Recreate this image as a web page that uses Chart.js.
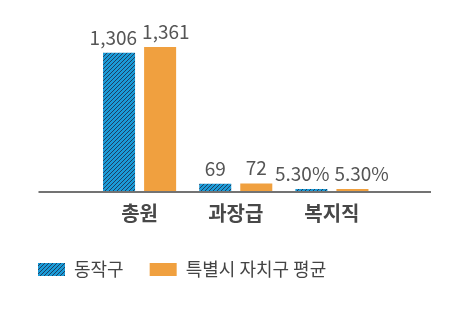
<!DOCTYPE html>
<html>
<head>
<meta charset="utf-8">
<script src="https://cdn.jsdelivr.net/npm/chart.js@4"></script>
<style>
  html, body { margin: 0; padding: 0; background: #fff; }
  #wrap { width: 470px; height: 313px; }
</style>
</head>
<body>
<div id="wrap"><canvas id="chart"></canvas></div>
<script>
const categories = ['총원', '과장급', '복지직'];
const seriesNames = ['동작구', '특별시 자치구 평균'];
const dongjakValues = [1306, 69, 5.3];
const averageValues = [1361, 72, 5.3];
const dongjakLabels = ['1,306', '69', '5.30%'];
const averageLabels = ['1,361', '72', '5.30%'];

const FONT = '"Noto Sans CJK KR", "Noto Sans", sans-serif';

// hatched blue fill for 동작구
function makeHatch() {
    const c = document.createElement('canvas');
    c.width = 4; c.height = 4;
    const g = c.getContext('2d');
    g.fillStyle = '#1b9bd7';
    g.fillRect(0, 0, 4, 4);
    g.strokeStyle = '#1d3f63';
    g.lineWidth = 1;
    g.beginPath();
    g.moveTo(0, 4); g.lineTo(4, 0);
    g.moveTo(-1, 1); g.lineTo(1, -1);
    g.moveTo(3, 5); g.lineTo(5, 3);
    g.stroke();
    return g.createPattern(c, 'repeat');
}

// value labels above bars, pushed apart when the pair would touch
const valueLabels = {
    id: 'valueLabels',
    afterDatasetsDraw(chart) {
        const ctx = chart.ctx;
        const texts = [dongjakLabels, averageLabels];
        const left = chart.getDatasetMeta(0).data;
        const right = chart.getDatasetMeta(1).data;
        ctx.save();
        ctx.font = '19px ' + FONT;
        ctx.fillStyle = '#555';
        ctx.textAlign = 'center';
        ctx.textBaseline = 'alphabetic';
        left.forEach((a, j) => {
            const b = right[j];
            const wa = ctx.measureText(texts[0][j]).width;
            const wb = ctx.measureText(texts[1][j]).width;
            let xa = a.x, xb = b.x;
            const overlap = (xa + wa / 2 + 5) - (xb - wb / 2);
            if (overlap > 0) { xa -= overlap / 2; xb += overlap / 2; }
            ctx.fillText(texts[0][j], xa, a.y - 8);
            ctx.fillText(texts[1][j], xb, b.y - 8);
        });
        ctx.restore();
    }
};

// baseline that runs wider than the bar area
const baseLine = {
    id: 'baseLine',
    afterDatasetsDraw(chart) {
        const { ctx, chartArea } = chart;
        ctx.save();
        ctx.fillStyle = '#737373';
        ctx.fillRect(chartArea.left - 53, chartArea.bottom, chartArea.right - chartArea.left + 104, 2);
        ctx.restore();
    }
};

const ctx = document.getElementById('chart').getContext('2d');
new Chart(ctx, {
    type: 'bar',
    data: {
        labels: categories,
        datasets: [
            {
                label: seriesNames[0],
                data: dongjakValues,
                backgroundColor: makeHatch(),
                borderWidth: 0,
                minBarLength: 2,
            },
            {
                label: seriesNames[1],
                data: averageValues,
                backgroundColor: '#f0a03f',
                borderWidth: 0,
                minBarLength: 2,
            }
        ]
    },
    options: {
        responsive: true,
        maintainAspectRatio: false,
        animation: false,
        categoryPercentage: 0.854,
        barPercentage: 0.78,
        layout: { padding: { top: 11, left: 12, right: 90, bottom: 24.5 } },
        plugins: {
            legend: {
                position: 'bottom',
                align: 'start',
                labels: {
                    boxWidth: 27,
                    boxHeight: 13,
                    padding: 26,
                    color: '#444',
                    font: { family: FONT, size: 18 },
                }
            },
            tooltip: { enabled: false }
        },
        scales: {
            x: {
                afterFit: (s) => { s.height = 43.5; },
                grid: { display: false },
                border: { display: false },
                ticks: {
                    color: '#484848',
                    padding: 2,
                    font: { family: FONT, size: 20, weight: 'bold' }
                }
            },
            y: {
                min: 0,
                max: 1700,
                afterFit: (s) => { s.width = 79.5; },
                grid: { display: false },
                border: { display: false },
                ticks: { display: false }
            }
        }
    },
    plugins: [valueLabels, baseLine]
});
</script>
</body>
</html>
